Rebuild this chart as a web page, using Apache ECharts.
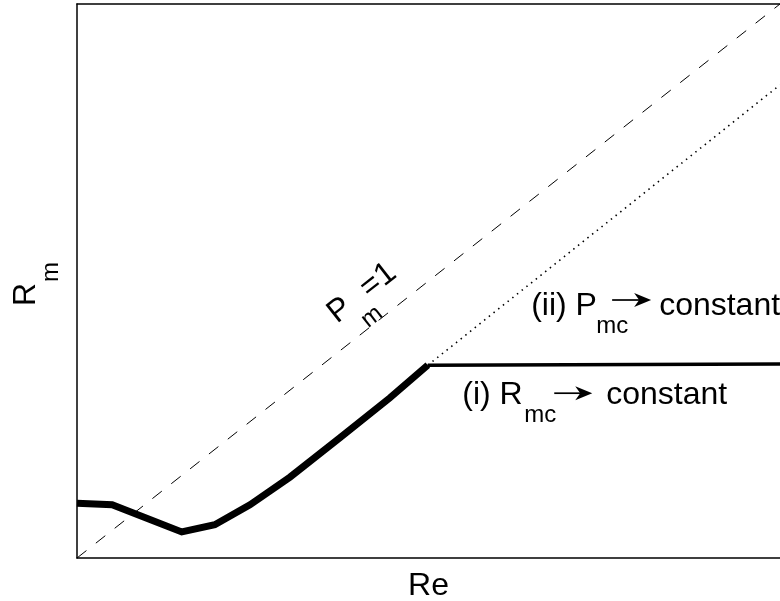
<!DOCTYPE html>
<html><head><meta charset="utf-8">
<script src="https://cdn.jsdelivr.net/npm/echarts@6/dist/echarts.min.js"></script>
<style>html,body{margin:0;padding:0;background:#fff}#c{width:780px;height:601px}</style>
</head><body><div id="c"></div>
<script>
// Data (dimensionless Re, Rm scaled to axis range 0..1)
const reCurve = [0, 0.050, 0.149, 0.196, 0.246, 0.303, 0.374, 0.445, 0.499];
const rmCurve = [0.099, 0.096, 0.047, 0.060, 0.096, 0.146, 0.217, 0.289, 0.348];
const reConstR = [0.499, 1.0];
const rmConstR = [0.348, 0.350];
const reConstP = [0.499, 1.0];
const rmConstP = [0.348, 0.854];
const reDiag = [0, 1];
const rmDiag = [0, 1];
const xName = 'Re';
const yName = ['R', 'm'];
const diagLabel = ['P', 'm', '=1'];
const labelI = ['(i) R', 'mc', 'constant'];
const labelII = ['(ii) P', 'mc', 'constant'];

const pairs = (xs, ys) => xs.map((x, i) => [x, ys[i]]);
const FONT = "'Liberation Sans', Arial, Helvetica, sans-serif";
const K = 0.35;
function txt(s, dx, dyBase, size, align) {
  return {type: 'text', style: {text: s, x: dx, y: dyBase - K * size, fill: '#000',
    font: size + 'px ' + FONT, align: align || 'left', verticalAlign: 'middle'}};
}
function arrow(x0, x1, dy) {
  return [
    {type: 'line', shape: {x1: x0, y1: dy, x2: x1 - 9, y2: dy}, style: {stroke: '#000', lineWidth: 1.7}},
    {type: 'polygon', shape: {points: [[x1, dy], [x1 - 17, dy - 7], [x1 - 12, dy], [x1 - 17, dy + 7]]}, style: {fill: '#000'}}
  ];
}
function labelSeries(anchor, children, opts) {
  opts = opts || {};
  return {type: 'custom', coordinateSystem: 'cartesian2d', silent: true, clip: false, z: 10,
    data: [anchor],
    renderItem(params, api) {
      const p = api.coord([api.value(0), api.value(1)]);
      let rot = 0;
      if (opts.alongDiag) {
        const a = api.coord([reDiag[0], rmDiag[0]]), b = api.coord([reDiag[1], rmDiag[1]]);
        rot = Math.atan2(a[1] - b[1], b[0] - a[0]);
      }
      if (opts.rot != null) rot = opts.rot;
      return {type: 'group', x: p[0] + (opts.ox || 0), y: p[1] + (opts.oy || 0), rotation: rot, children: children};
    }};
}

const axisBase = {type: 'value', min: 0, max: 1, axisTick: {show: false}, axisLabel: {show: false}, splitLine: {show: false},
  axisLine: {show: true, onZero: false, lineStyle: {color: '#000', width: 1.5}}};
const chart = echarts.init(document.getElementById('c'), null, {renderer: 'canvas'});
chart.setOption({
  animation: false,
  backgroundColor: '#fff',
  grid: {left: 77, top: 4, right: -1, bottom: 43, show: false},
  xAxis: [Object.assign({position: 'bottom'}, axisBase), Object.assign({position: 'top'}, axisBase)],
  yAxis: Object.assign({position: 'left'}, axisBase),
  series: [
    {type: 'line', data: pairs(reDiag, rmDiag), showSymbol: false, silent: true,
      lineStyle: {color: '#000', width: 1, type: [12, 12]}},
    {type: 'line', data: pairs(reConstP, rmConstP), showSymbol: false, silent: true,
      lineStyle: {color: '#000', width: 1.6, type: [1.5, 4.5]}},
    {type: 'line', data: pairs(reConstR, rmConstR), showSymbol: false, silent: true,
      lineStyle: {color: '#000', width: 3.5, cap: 'butt'}},
    {type: 'line', data: pairs(reCurve, rmCurve), showSymbol: false, silent: true,
      lineStyle: {color: '#000', width: 7, join: 'miter', cap: 'butt'}},
    labelSeries([0.548, 0.274], [
      txt(labelI[0], 0, 0, 32), txt(labelI[1], 62, 18, 24), ...arrow(92, 130, -13), txt(labelI[2], 144, 0, 32)
    ]),
    labelSeries([0.646, 0.435], [
      txt(labelII[0], 0, 0, 32), txt(labelII[1], 65, 18, 24), ...arrow(81, 120, -17), txt(labelII[2], 128, 0, 32)
    ]),
    labelSeries([0.372, 0.419], [
      txt(diagLabel[0], 0, 0, 32), txt(diagLabel[1], 22, 22, 24), txt(diagLabel[2], 41, 0, 32)
    ], {alongDiag: true}),
    labelSeries([0, 0.5], [
      txt(yName[0], 0, 0, 32), txt(yName[1], 24, 23, 24)
    ], {rot: Math.PI / 2, ox: -40, oy: 25}),
    labelSeries([0.5, 0], [
      txt(xName, 0, 39, 32, 'center')
    ])
  ]
});
</script></body></html>
